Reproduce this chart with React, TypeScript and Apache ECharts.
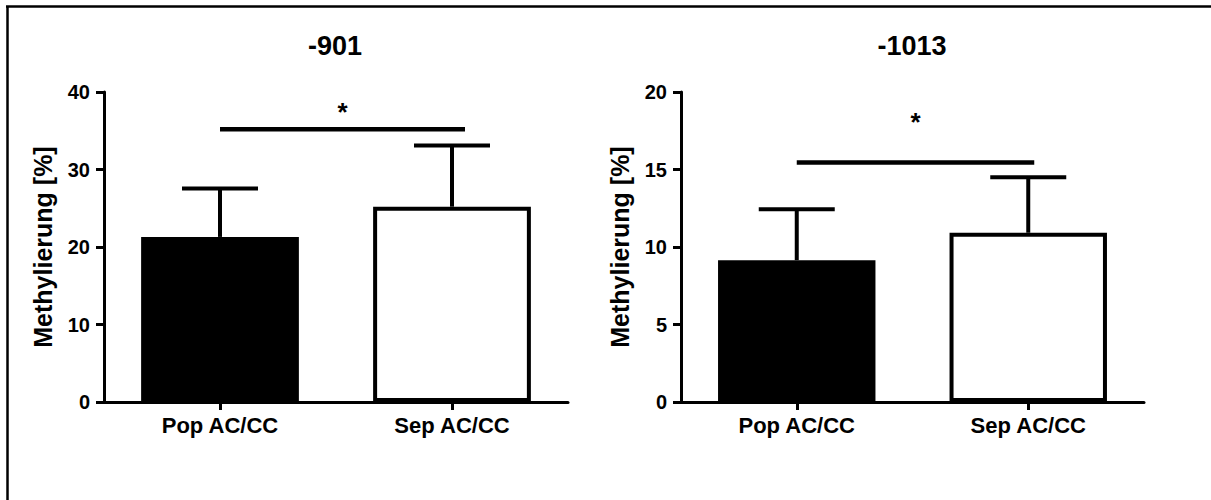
import React, { useEffect, useRef } from "react";
import * as echarts from "echarts";

const categories = ["Pop AC/CC", "Sep AC/CC"];
const titles = ["-901", "-1013"];
const yAxisName = "Methylierung [%]";

const means901 = [21.3, 25.2];
const upper901 = [27.55, 33.1];
const sig901 = 35.2;
const star901 = 37.9;
const yMax901 = 40;
const yStep901 = 10;

const means1013 = [9.15, 10.92];
const upper1013 = [12.43, 14.5];
const sig1013 = 15.45;
const star1013 = 18.3;
const yMax1013 = 20;
const yStep1013 = 5;

const FONT = "'Liberation Sans', Arial, Helvetica, sans-serif";

export default function App() {
  const ref = useRef<HTMLDivElement>(null);

  useEffect(() => {
    document.body.style.margin = "0";
    document.body.style.overflow = "hidden";
    if (!ref.current) return;
    const chart = echarts.init(ref.current, null, { renderer: "svg" });

    const grids = [
      { left: 104, top: 92, width: 464, height: 310 },
      { left: 681, top: 92, width: 463, height: 310 },
    ];

    const yAxisCommon = (gi: number, max: number, step: number) => ({
      type: "value",
      gridIndex: gi,
      min: 0,
      max,
      interval: step,
      name: yAxisName,
      nameLocation: "middle",
      nameGap: 49,
      nameTextStyle: { fontFamily: FONT, fontWeight: "bold", fontSize: 25, color: "#000" },
      axisLine: { show: true, lineStyle: { color: "#000", width: 3 } },
      axisTick: { show: true, length: 8, lineStyle: { color: "#000", width: 3 } },
      axisLabel: { margin: 14, fontFamily: FONT, fontWeight: "bold", fontSize: 20, color: "#000" },
      splitLine: { show: false },
    });

    const xAxisCommon = (gi: number) => ({
      type: "category",
      gridIndex: gi,
      data: categories,
      axisLine: { show: true, lineStyle: { color: "#000", width: 3 } },
      axisTick: { show: true, alignWithLabel: true, length: 8, lineStyle: { color: "#000", width: 3 } },
      axisLabel: { margin: 12, fontFamily: FONT, fontWeight: "bold", fontSize: 22, color: "#000" },
    });

    const barData = (means: number[]) => [
      { value: means[0], itemStyle: { color: "#000" } },
      { value: means[1], itemStyle: { color: "#fff", borderColor: "#000", borderWidth: 4 } },
    ];

    const errSeries = (gi: number, means: number[], upper: number[]) => ({
      type: "custom",
      xAxisIndex: gi,
      yAxisIndex: gi,
      z: 1,
      data: means.map((m, i) => [i, m, upper[i]]),
      renderItem: (_p: any, api: any) => {
        const x = api.value(0);
        const base = api.coord([x, api.value(1)]);
        const top = api.coord([x, api.value(2)]);
        const half = 38;
        const st = { stroke: "#000", lineWidth: 4 };
        return {
          type: "group",
          children: [
            { type: "line", shape: { x1: base[0], y1: base[1], x2: top[0], y2: top[1] }, style: st },
            { type: "line", shape: { x1: top[0] - half, y1: top[1], x2: top[0] + half, y2: top[1] }, style: st },
          ],
        };
      },
    });

    const sigSeries = (gi: number, level: number, star: number, extra: number) => ({
      type: "custom",
      xAxisIndex: gi,
      yAxisIndex: gi,
      z: 5,
      data: [[0, 1, level, star]],
      renderItem: (_p: any, api: any) => {
        const a = api.coord([api.value(0), api.value(2)]);
        const b = api.coord([api.value(1), api.value(2)]);
        const s = api.coord([api.value(0), api.value(3)]);
        const x2 = b[0] + extra;
        const mid = (a[0] + x2) / 2;
        return {
          type: "group",
          children: [
            { type: "line", shape: { x1: a[0], y1: a[1], x2, y2: b[1] }, style: { stroke: "#000", lineWidth: 4.5 } },
            {
              type: "text",
              x: mid,
              y: s[1] + 4,
              style: {
                text: "*",
                fill: "#000",
                font: `bold 26px ${FONT}`,
                textAlign: "center",
                textVerticalAlign: "middle",
              },
            },
          ],
        };
      },
    });

    chart.setOption({
      animation: false,
      backgroundColor: "#fff",
      grid: grids,
      xAxis: [xAxisCommon(0), xAxisCommon(1)],
      yAxis: [yAxisCommon(0, yMax901, yStep901), yAxisCommon(1, yMax1013, yStep1013)],
      graphic: [
        { type: "line", shape: { x1: 7.5, y1: 6, x2: 7.5, y2: 500 }, style: { stroke: "#000", lineWidth: 2.5 } },
        { type: "line", shape: { x1: 6, y1: 6.5, x2: 1211, y2: 6.5 }, style: { stroke: "#000", lineWidth: 2.5 } },
        {
          type: "text",
          x: 335,
          y: 46,
          style: { text: titles[0], fill: "#000", font: `bold 27px ${FONT}`, textAlign: "center", textVerticalAlign: "middle" },
        },
        {
          type: "text",
          x: 912,
          y: 46,
          style: { text: titles[1], fill: "#000", font: `bold 27px ${FONT}`, textAlign: "center", textVerticalAlign: "middle" },
        },
      ],
      series: [
        errSeries(0, means901, upper901),
        { type: "bar", xAxisIndex: 0, yAxisIndex: 0, barWidth: "68%", z: 2, data: barData(means901) },
        sigSeries(0, sig901, star901, 13),
        errSeries(1, means1013, upper1013),
        { type: "bar", xAxisIndex: 1, yAxisIndex: 1, barWidth: "68%", z: 2, data: barData(means1013) },
        sigSeries(1, sig1013, star1013, 6),
      ],
    });

    return () => chart.dispose();
  }, []);

  return (
    <div
      ref={ref}
      style={{ position: "absolute", left: 0, top: 0, width: 1211, height: 500, background: "#fff" }}
    />
  );
}
